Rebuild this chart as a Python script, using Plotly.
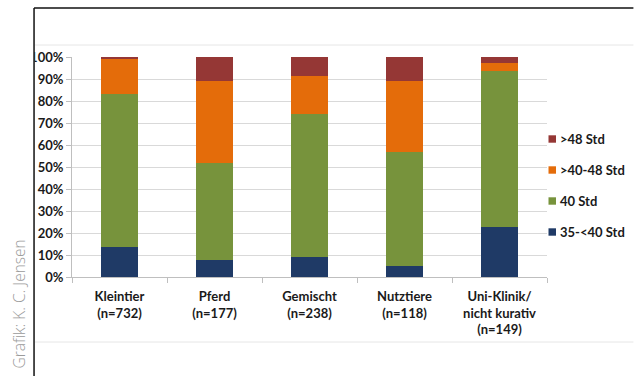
import plotly.graph_objects as go

# Categories (practice type) and share of weekly working hours per group, in %
categories = ["Kleintier<br>(n=732)", "Pferd<br>(n=177)", "Gemischt<br>(n=238)",
              "Nutztiere<br>(n=118)", "Uni-Klinik/<br>nicht kurativ<br>(n=149)"]
h35_40 = [13.6, 7.8, 9.0, 4.8, 22.6]
h40 = [69.5, 44.0, 65.1, 52.0, 71.1]
h40_48 = [16.1, 37.4, 17.3, 32.4, 3.6]
h48 = [0.8, 10.8, 8.6, 10.8, 2.7]

series = [
    ("35-<40 Std", h35_40, "#1f3a66"),
    ("40 Std", h40, "#77933c"),
    (">40-48 Std", h40_48, "#e46c0a"),
    (">48 Std", h48, "#953735"),
]

W, H = 634, 376
L, R, T, B = 72, 547.5, 57, 277  # plot area in pixels


def px(x):
    return (x - L) / (R - L)


def py(y):
    return (B - y) / (B - T)


fig = go.Figure()
for name, vals, col in series:
    fig.add_trace(go.Bar(
        x=categories, y=[v / 100 for v in vals], name=name,
        marker=dict(color=col, line=dict(width=0)),
        showlegend=False,
    ))

font_main = dict(family="Lato, Open Sans, sans-serif", size=13, color="#1a1a1a", weight="bold")

fig.update_layout(
    width=W, height=H,
    margin=dict(l=L, r=W - R, t=T, b=H - B, autoexpand=False),
    barmode="stack", bargap=0.61,
    paper_bgcolor="white", plot_bgcolor="white",
    font=font_main,
    showlegend=False,
    xaxis=dict(
        showline=True, linecolor="#bfbfbf", linewidth=1,
        ticks="outside", tickson="boundaries", ticklen=5, tickcolor="#bfbfbf",
        showgrid=False, tickfont=font_main, ticklabelstandoff=7,
    ),
    yaxis=dict(
        range=[0, 1], tickvals=[i / 10 for i in range(11)], tickformat=".0%",
        showline=True, linecolor="#bfbfbf", linewidth=1,
        ticks="outside", ticklen=5, tickcolor="#bfbfbf",
        showgrid=True, gridcolor="#d9d9d9", gridwidth=1,
        tickfont=font_main, zeroline=False,
    ),
)

# legend: small colour squares with labels, top entry = top of the stack
for k, (name, vals, col) in enumerate(reversed(series)):
    yc = 139 + 31 * k
    fig.add_shape(type="rect", xref="paper", yref="paper",
                  x0=px(549), x1=px(556.5), y0=py(yc + 3.7), y1=py(yc - 3.7),
                  fillcolor=col, line=dict(width=0))
    fig.add_annotation(text=name, xref="paper", yref="paper",
                       x=px(559), y=py(yc), xanchor="left", yanchor="middle",
                       showarrow=False, font=font_main)

# outer frame: white margin on the left, black frame lines, light inner separators
fig.add_shape(type="rect", xref="paper", yref="paper", layer="above",
              x0=px(27), x1=px(34.5), y0=py(H), y1=py(0),
              fillcolor="white", line=dict(width=0))
fig.add_shape(type="line", xref="paper", yref="paper", layer="above",
              x0=px(34), x1=px(W), y0=py(8), y1=py(8), line=dict(color="#111111", width=1.5))
fig.add_shape(type="line", xref="paper", yref="paper", layer="above",
              x0=px(34), x1=px(34), y0=py(8), y1=py(H), line=dict(color="#111111", width=1.5))
for yy in (45, 342):
    fig.add_shape(type="line", xref="paper", yref="paper", layer="below",
                  x0=px(35), x1=px(W), y0=py(yy), y1=py(yy),
                  line=dict(color="#e6e6e6", width=1))

fig.add_annotation(
    text="Grafik: K. C. Jensen", xref="paper", yref="paper",
    x=px(18.5), y=py(304), xanchor="center", yanchor="middle",
    textangle=-90, showarrow=False,
    font=dict(family="Open Sans, sans-serif", size=15.5, color="#9a9a9a", weight=300),
)

fig.write_html("out.html")
